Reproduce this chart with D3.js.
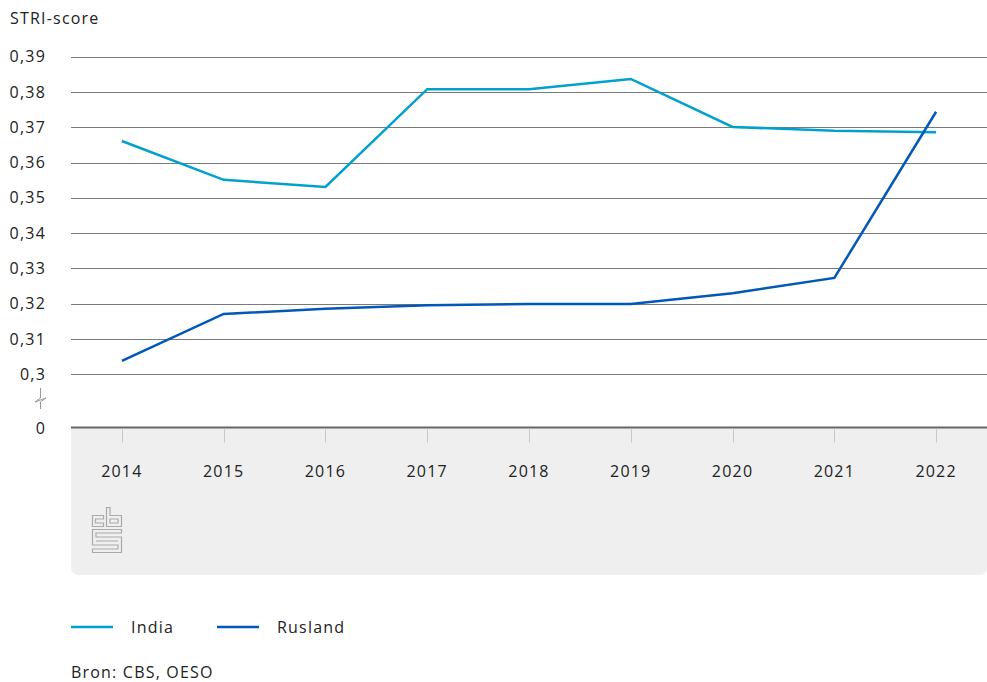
<!DOCTYPE html>
<html>
<head>
<meta charset="utf-8">
<script src="https://cdn.jsdelivr.net/npm/d3@7"></script>
<style>
  body { margin: 0; background: #fff; }
  svg { font-family: "Open Sans", "Noto Sans", sans-serif; }
  svg text { letter-spacing: 1.2px; }
</style>
</head>
<body>
<svg id="chart" width="987" height="682"></svg>
<script>
'use strict';

const years = ['2014', '2015', '2016', '2017', '2018', '2019', '2020', '2021', '2022'];
const india = [0.3661, 0.3551, 0.3531, 0.3808, 0.3808, 0.3837, 0.3701, 0.3690, 0.3686];
const rusland = [0.3038, 0.3171, 0.3186, 0.3196, 0.3199, 0.3199, 0.3230, 0.3273, 0.3744];
const yTicks = [0.30, 0.31, 0.32, 0.33, 0.34, 0.35, 0.36, 0.37, 0.38, 0.39];

const series = [
  { name: 'India', values: india, color: '#00a1cd' },
  { name: 'Rusland', values: rusland, color: '#0058b8' },
];

const svg = d3.select('#chart');
const left = 71, right = 987;
const zeroY = 427.5;
const fmt = (v) => String(+v.toFixed(2)).replace('.', ',');

// scales
const x = d3.scaleBand().domain(years).range([left, right]);
const y = d3.scaleLinear().domain([0.30, 0.39]).range([374.3, 56.7]);
const cx = (yr) => x(yr) + x.bandwidth() / 2;

// grey panel under the axis
svg.append('path')
  .attr('d', `M${left},${zeroY} H${right} V${575 - 8} Q${right},575 ${right - 8},575 H${left + 8} Q${left},575 ${left},${575 - 8} Z`)
  .style('fill', '#efefef');

// gridlines
svg.append('g').selectAll('line')
  .data(yTicks)
  .join('line')
  .attr('x1', left).attr('x2', right)
  .attr('y1', (d) => Math.round(y(d)) + 0.5)
  .attr('y2', (d) => Math.round(y(d)) + 0.5)
  .style('stroke', '#7a7a7a')
  .style('stroke-width', 1);

// y labels
svg.append('g').selectAll('text')
  .data(yTicks)
  .join('text')
  .attr('x', 46)
  .attr('y', (d) => y(d))
  .attr('dy', '0.35em')
  .attr('text-anchor', 'end')
  .style('font-size', '16px')
  .style('fill', '#222')
  .text(fmt);

svg.append('text')
  .attr('x', 46).attr('y', zeroY + 1).attr('dy', '0.35em')
  .attr('text-anchor', 'end')
  .style('font-size', '16px').style('fill', '#222')
  .text('0');

// axis break symbol
svg.append('path')
  .attr('d', 'M40.5,388 V398 L35,402 L46,398 L40.5,402 V409')
  .style('fill', 'none').style('stroke', '#999').style('stroke-width', 1);

// zero axis
svg.append('line')
  .attr('x1', left).attr('x2', right)
  .attr('y1', zeroY).attr('y2', zeroY)
  .style('stroke', '#666').style('stroke-width', 2);

// x ticks and labels
svg.append('g').selectAll('line')
  .data(years)
  .join('line')
  .attr('x1', (d) => Math.round(cx(d)) + 0.5)
  .attr('x2', (d) => Math.round(cx(d)) + 0.5)
  .attr('y1', zeroY + 1).attr('y2', zeroY + 15)
  .style('stroke', '#c8c8c8').style('stroke-width', 1);

svg.append('g').selectAll('text')
  .data(years)
  .join('text')
  .attr('x', (d) => cx(d))
  .attr('y', 471)
  .attr('dy', '0.35em')
  .attr('text-anchor', 'middle')
  .style('font-size', '16px').style('fill', '#222')
  .text((d) => d);

// cbs logo
const logo = svg.append('g')
  .attr('transform', 'translate(92,507)')
  .style('fill', 'none').style('stroke', '#aaa').style('stroke-width', 1.2);
logo.append('path').attr('d', 'M0.5,8.5 H11.5 V12 H3.5 V16 H11.5 V19.5 H0.5 Z');
logo.append('path').attr('d', 'M14.5,0.5 H18 V8.5 H29.5 V19.5 H14.5 Z M18,12 V16 H26 V12 Z');
logo.append('path').attr('d', 'M0.5,22.5 H29.5 V26 H4 V30 H29.5 V45.5 H0.5 V42 H26 V38 H0.5 Z M4,34 H26');

// lines
const line = d3.line()
  .x((d, i) => cx(years[i]))
  .y((d) => y(d));

svg.append('g').selectAll('path')
  .data(series)
  .join('path')
  .attr('d', (d) => line(d.values))
  .style('fill', 'none')
  .style('stroke', (d) => d.color)
  .style('stroke-width', 2.5);

// title
svg.append('text')
  .attr('x', 10).attr('y', 18).attr('dy', '0.35em')
  .style('font-size', '16px').style('fill', '#222')
  .text('STRI-score');

// legend
const legX = [71, 217];
const leg = svg.append('g').selectAll('g')
  .data(series)
  .join('g')
  .attr('transform', (d, i) => `translate(${legX[i]},627)`);
leg.append('line')
  .attr('x1', 0).attr('x2', 42)
  .style('stroke', (d) => d.color).style('stroke-width', 2.5);
leg.append('text')
  .attr('x', 60).attr('dy', '0.35em')
  .style('font-size', '16px').style('fill', '#222')
  .text((d) => d.name);

svg.append('text')
  .attr('x', 71).attr('y', 672).attr('dy', '0.35em')
  .style('font-size', '16px').style('fill', '#222')
  .text('Bron: CBS, OESO');
</script>
</body>
</html>
